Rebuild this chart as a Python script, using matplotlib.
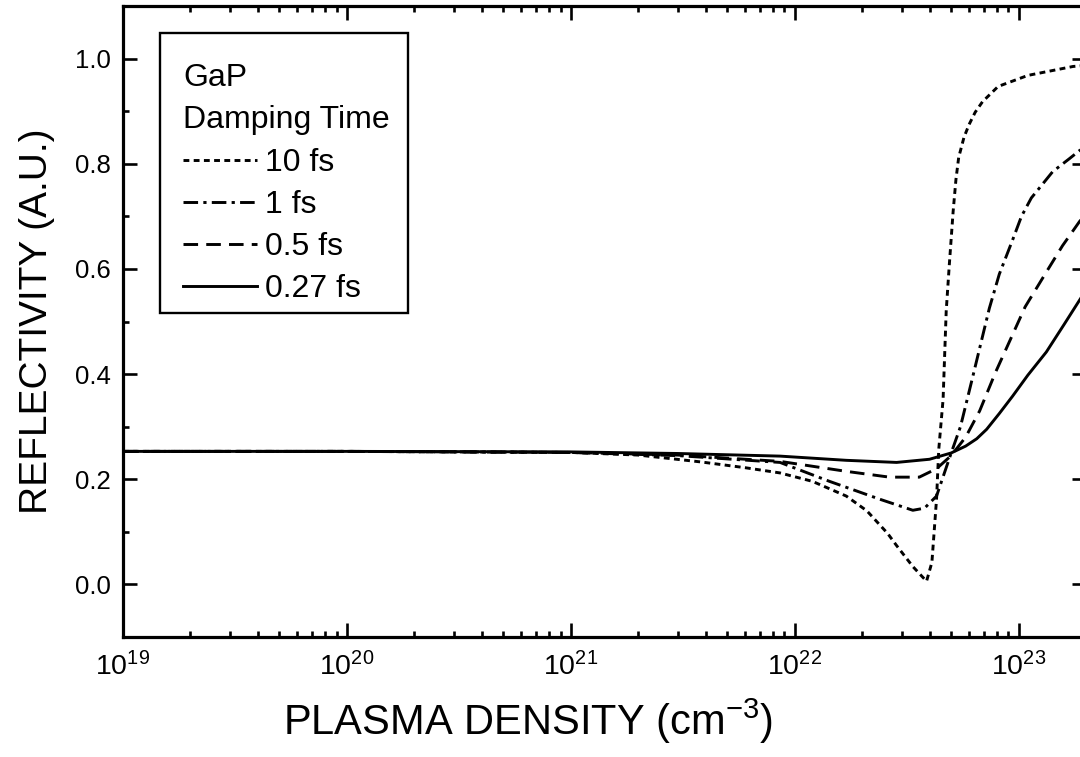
import numpy as np
import matplotlib
matplotlib.use("Agg")
import matplotlib.pyplot as plt
from matplotlib.ticker import MultipleLocator, LogLocator
from matplotlib.patches import Rectangle

plt.rcParams['font.family'] = ['Liberation Sans', 'DejaVu Sans']
plt.rcParams['mathtext.fontset'] = 'custom'
plt.rcParams['mathtext.rm'] = 'Liberation Sans'

# Reflectivity vs plasma density
dens_10fs = [1e19, 1e20, 1e21, 2e21, 3.8e21, 6e21, 8.6e21, 1.2e22, 1.7e22, 2.1e22,
             2.6e22, 2.85e22, 3.37e22, 3.88e22, 4.1e22, 4.3e22, 4.4e22, 4.6e22, 4.75e22,
             4.9e22, 5.1e22, 5.25e22, 5.4e22, 5.7e22, 6e22, 6.4e22, 6.9e22, 8.1e22,
             1.1e23, 1.75e23, 2e23]
refl_10fs = [0.253, 0.253, 0.251, 0.246, 0.233, 0.222, 0.212, 0.196, 0.168, 0.140,
             0.097, 0.074, 0.034, 0.006, 0.042, 0.162, 0.257, 0.352, 0.520,
             0.606, 0.709, 0.770, 0.812, 0.850, 0.874, 0.898, 0.918, 0.947,
             0.968, 0.985, 0.987]

dens_1fs = [1e19, 1e20, 1e21, 3e21, 8.6e21, 1.43e22, 2.4e22, 3.37e22, 3.8e22, 4.3e22,
            5e22, 5.5e22, 6.2e22, 7.4e22, 8.2e22, 9.4e22, 1.03e23, 1.14e23, 1.42e23,
            1.69e23, 1.87e23, 2e23]
refl_1fs = [0.253, 0.253, 0.251, 0.245, 0.232, 0.196, 0.162, 0.141, 0.145, 0.168,
            0.250, 0.300, 0.390, 0.525, 0.590, 0.655, 0.700, 0.735, 0.785,
            0.810, 0.825, 0.832]

dens_05fs = [1e19, 1e20, 1e21, 3e21, 8.6e21, 1.7e22, 2.65e22, 3.6e22, 4.3e22, 5e22,
             5.8e22, 6.7e22, 7.9e22, 9.4e22, 1.07e23, 1.33e23, 1.57e23, 1.87e23, 2e23]
refl_05fs = [0.253, 0.253, 0.251, 0.246, 0.234, 0.215, 0.204, 0.204, 0.220, 0.245,
             0.280, 0.330, 0.404, 0.475, 0.528, 0.594, 0.644, 0.690, 0.705]

dens_027fs = [1e19, 1e20, 1e21, 3e21, 8.6e21, 1.7e22, 2.85e22, 4e22, 5e22, 5.8e22,
              6.5e22, 7.2e22, 8.2e22, 9.4e22, 1.1e23, 1.33e23, 1.6e23, 1.9e23, 2e23]
refl_027fs = [0.253, 0.253, 0.252, 0.249, 0.244, 0.236, 0.232, 0.238, 0.250, 0.263,
              0.277, 0.295, 0.325, 0.358, 0.398, 0.442, 0.495, 0.545, 0.560]

labels = ['10 fs', '1 fs', '0.5 fs', '0.27 fs']

fig = plt.figure(figsize=(10.8, 7.57), dpi=100)
ax = fig.add_axes([123/1080, 1-637/757, 963/1080, 631/757])

lw = 2.1
l1, = ax.plot(dens_10fs, refl_10fs, color='black', lw=lw, dashes=(2.0, 1.5))
l2, = ax.plot(dens_1fs, refl_1fs, color='black', lw=lw, dashes=(5.0, 1.8, 1.1, 1.8))
l3, = ax.plot(dens_05fs, refl_05fs, color='black', lw=lw, dashes=(5.0, 2.8))
l4, = ax.plot(dens_027fs, refl_027fs, color='black', lw=lw)

ax.set_xscale('log')
ax.set_xlim(1e19, 2e23)
ax.set_ylim(-0.1, 1.1)
ax.yaxis.set_major_locator(MultipleLocator(0.2))
ax.yaxis.set_minor_locator(MultipleLocator(0.1))
ax.xaxis.set_major_locator(LogLocator(base=10, numticks=10))
ax.xaxis.set_minor_locator(LogLocator(base=10, subs=np.arange(2, 10), numticks=20))
ax.yaxis.set_major_formatter(plt.FormatStrFormatter('%.1f'))

for s in ax.spines.values():
    s.set_linewidth(2.3)
ax.tick_params(which='both', direction='in', top=True, right=True, width=1.9)
ax.tick_params(which='major', length=10)
ax.tick_params(which='minor', length=4)
ax.tick_params(axis='x', which='major', pad=11, labelsize=20.5)
ax.tick_params(axis='y', which='major', pad=9, labelsize=18.5)

ax.set_xlabel('PLASMA DENSITY (cm$^{-3}$)', fontsize=30)
ax.set_ylabel('REFLECTIVITY (A.U.)', fontsize=28)
ax.xaxis.set_label_coords(0.42, -0.095)
ax.yaxis.set_label_coords(-0.071, 0.5)

# legend box with a two-line heading
fs = 23
ax.add_patch(Rectangle((37/963, (637-313)/631), 248/963, 280/631,
                       transform=ax.transAxes, fill=False, lw=1.7, zorder=5))
ax.text(60/963, (637-78)/631, 'GaP', transform=ax.transAxes, fontsize=fs, va='center')
ax.text(60/963, (637-120)/631, 'Damping Time', transform=ax.transAxes, fontsize=fs, va='center')
leg = ax.legend([l1, l2, l3, l4], labels, loc='upper left',
                bbox_to_anchor=(60/963, (637-148)/631), frameon=False,
                fontsize=fs, handlelength=2.32, handletextpad=0.25,
                labelspacing=0.38, borderaxespad=0, borderpad=0)

fig.savefig('out.png', dpi=100)
